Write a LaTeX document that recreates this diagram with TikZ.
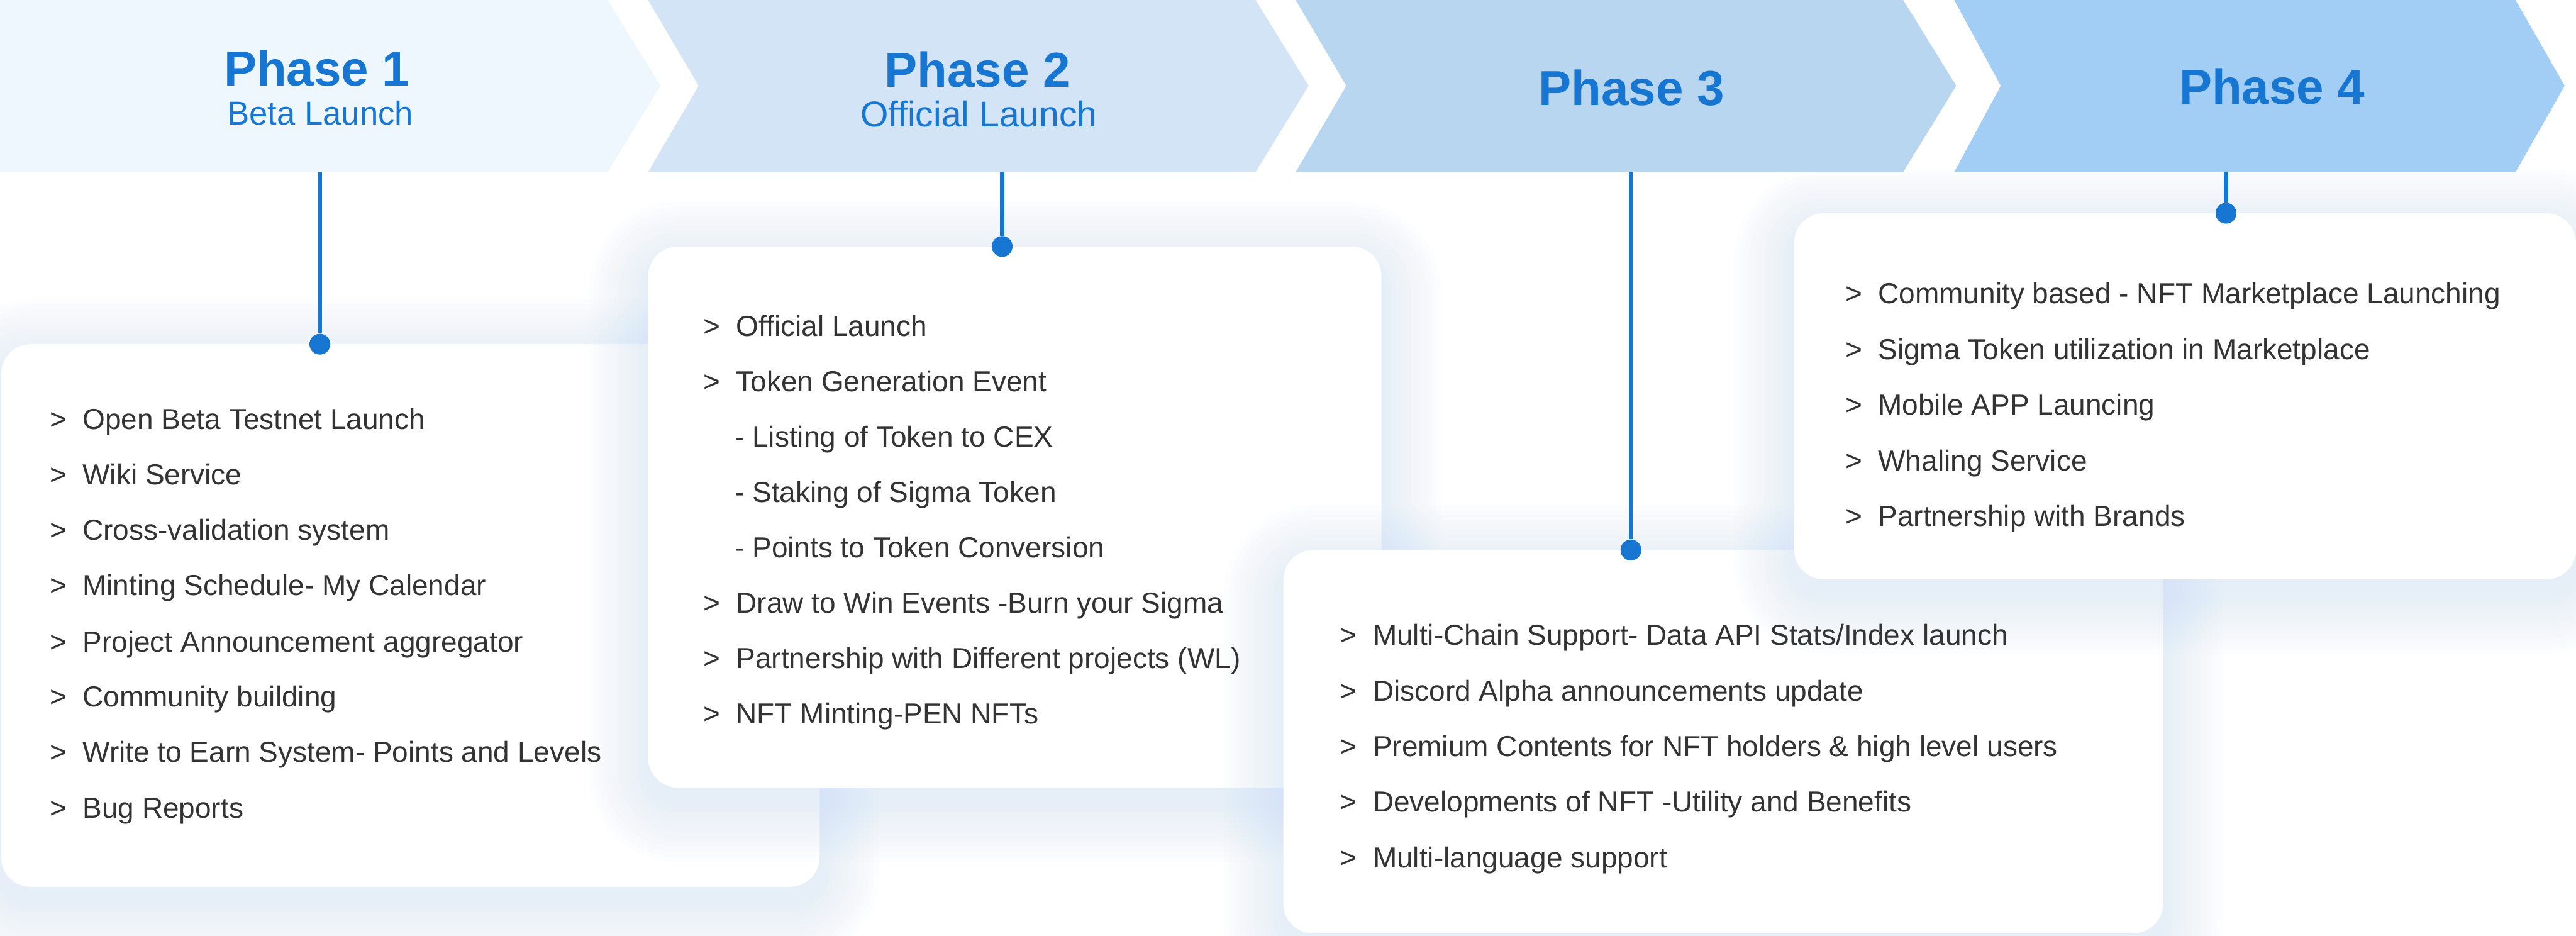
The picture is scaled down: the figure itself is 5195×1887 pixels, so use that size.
\documentclass[tikz,border=0pt]{standalone}
\usepackage{fontspec}
\setmainfont{Liberation Sans}
\definecolor{p1c}{HTML}{EEF6FE}
\definecolor{p2c}{HTML}{D2E4F5}
\definecolor{p3c}{HTML}{B9D6F0}
\definecolor{p4c}{HTML}{A2CDF5}
\definecolor{hblue}{HTML}{1776D1}
\definecolor{txt}{HTML}{333333}
\definecolor{glowc}{HTML}{C4DCF7}
\tikzset{
  hdr/.style={font=\fontsize{28.2}{34}\selectfont\bfseries, text=hblue, inner sep=0pt, anchor=base},
  subhdr/.style={font=\fontsize{19}{23}\selectfont, text=hblue, inner sep=0pt, anchor=base},
  item/.style={font=\fontsize{16.6}{20}\selectfont, text=txt, inner sep=0pt, anchor=base west},
  dotnode/.style={circle, fill=hblue, minimum size=4.2mm, inner sep=0pt},
  conn/.style={draw=hblue, line width=0.8mm},
}
\newcommand\drawcard[4]{%
  \foreach \e in {10,20,...,120}{%
    \pgfmathsetmacro\rr{6+\e/10}%
    \fill[glowc,opacity=0.034,rounded corners=\rr mm] (#1-\e,#2-\e+30) rectangle (#3+\e,#4+\e+30);
  }%
  \fill[white,rounded corners=6mm] (#1,#2) rectangle (#3,#4);%
}
\newcommand\bl{\makebox[6.6mm][l]{>}}
\begin{document}
\begin{tikzpicture}[x=0.1mm,y=-0.1mm]
\useasboundingbox (0,0) rectangle (5195,1887);
\fill[white] (0,0) rectangle (5195,1887);

% cards
\drawcard{2}{694}{1653}{1788}
\drawcard{1307}{497}{2786}{1588}
\drawcard{2588}{1109}{4362}{1882}
\drawcard{3618}{430}{5195}{1168}

% chevrons
\fill[p1c] (0,0) -- (1225,0) -- (1332,173) -- (1225,347) -- (0,347) -- cycle;
\fill[p2c] (1307,0) -- (2532,0) -- (2639,173) -- (2532,347) -- (1307,347) -- (1409,173) -- cycle;
\fill[p3c] (2613,0) -- (3838,0) -- (3945,173) -- (3838,347) -- (2613,347) -- (2715,173) -- cycle;
\fill[p4c] (3941,0) -- (5073,0) -- (5172,173) -- (5073,347) -- (3941,347) -- (4035,173) -- cycle;

% headers
\node[hdr] (h1) at (639,173) {Phase 1};
\node[subhdr] (s1) at (646,252) {Beta Launch};
\node[hdr] (h2) at (1971,176) {Phase 2};
\node[subhdr, font=\fontsize{20.6}{24}\selectfont] (s2) at (1974,256) {Official Launch};
\node[hdr] (h3) at (3290,212) {Phase 3};
\node[hdr] (h4) at (4582,210) {Phase 4};

% card 1 items
\node[item] (a1) at (100,866) {\bl Open Beta Testnet Launch};
\node[item] (a2) at (100,977) {\bl Wiki Service};
\node[item] (a3) at (100,1089) {\bl Cross-validation system};
\node[item] (a4) at (100,1201) {\bl Minting Schedule- My Calendar};
\node[item] (a5) at (100,1314) {\bl Project Announcement aggregator};
\node[item] (a6) at (100,1425) {\bl Community building};
\node[item] (a7) at (100,1537) {\bl Write to Earn System- Points and Levels};
\node[item] (a8) at (100,1650) {\bl Bug Reports};

% card 2 items
\node[item] (b1) at (1418,678) {\bl Official Launch};
\node[item] (b2) at (1418,789) {\bl Token Generation Event};
\node[item] (b3) at (1481,901) {- Listing of Token to CEX};
\node[item] (b4) at (1481,1013) {- Staking of Sigma Token};
\node[item] (b5) at (1481,1124) {- Points to Token Conversion};
\node[item] (b6) at (1418,1236) {\bl Draw to Win Events -Burn your Sigma};
\node[item] (b7) at (1418,1348) {\bl Partnership with Different projects (WL)};
\node[item] (b8) at (1418,1459) {\bl NFT Minting-PEN NFTs};

% card 3 items
\node[item] (c1) at (2702,1301) {\bl Multi-Chain Support- Data API Stats/Index launch};
\node[item] (c2) at (2702,1413) {\bl Discord Alpha announcements update};
\node[item] (c3) at (2702,1525) {\bl Premium Contents for NFT holders \& high level users};
\node[item] (c4) at (2702,1637) {\bl Developments of NFT -Utility and Benefits};
\node[item] (c5) at (2702,1749) {\bl Multi-language support};

% card 4 items
\node[item] (e1) at (3721,612) {\bl Community based - NFT Marketplace Launching};
\node[item] (e2) at (3721,725) {\bl Sigma Token utilization in Marketplace};
\node[item] (e3) at (3721,837) {\bl Mobile APP Launcing};
\node[item] (e4) at (3721,949) {\bl Whaling Service};
\node[item] (e5) at (3721,1061) {\bl Partnership with Brands};

% connectors
\coordinate (t1) at (645,347);
\coordinate (t2) at (2021,347);
\coordinate (t3) at (3289,347);
\coordinate (t4) at (4489,347);
\node[dotnode] (d1) at (645,694) {};
\node[dotnode] (d2) at (2021,497) {};
\node[dotnode] (d3) at (3289,1109) {};
\node[dotnode] (d4) at (4489,430) {};
\draw[conn] (t1) -- (d1);
\draw[conn] (t2) -- (d2);
\draw[conn] (t3) -- (d3);
\draw[conn] (t4) -- (d4);
\end{tikzpicture}
\end{document}
